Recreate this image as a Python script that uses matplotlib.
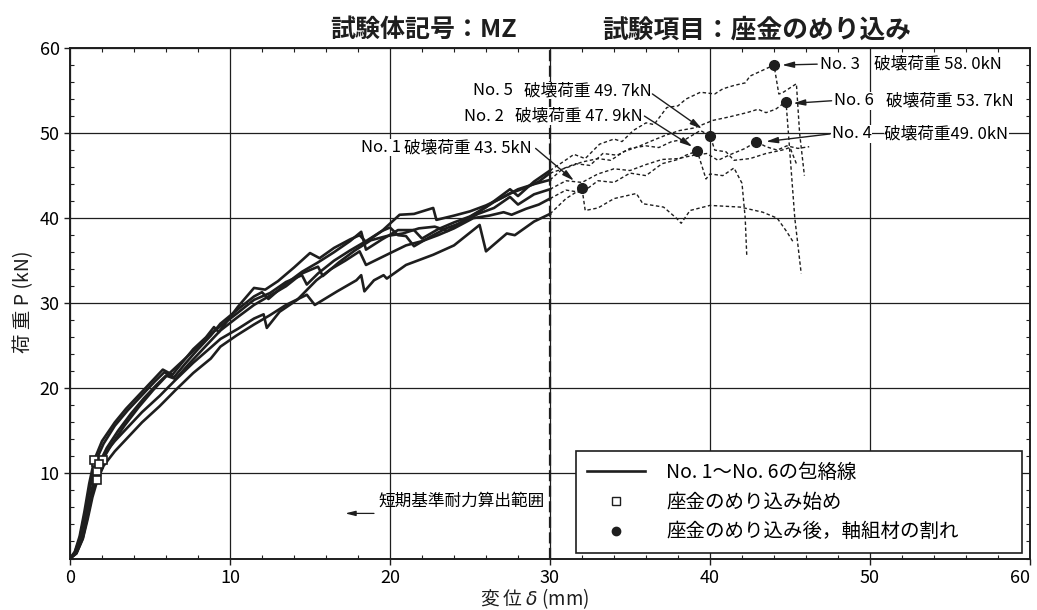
import numpy as np
import matplotlib.pyplot as plt
from matplotlib.lines import Line2D
from matplotlib.ticker import AutoMinorLocator

plt.rcParams['font.family'] = ['Noto Sans CJK JP', 'DejaVu Sans']

# load-displacement records (displacement mm, load kN), No.1 - No.6
no1 = [(0, 0), (0.4, 0.6), (0.8, 2.3), (1.1, 4.6), (1.4, 7.2), (1.71, 9.2), (2.1, 10.9), (2.8, 12.6),
       (3.5, 14.0), (4.5, 16.0), (5.6, 17.9), (6.6, 19.8), (7.7, 21.8), (8.8, 23.5), (9.4, 24.9),
       (10.4, 26.2), (11.5, 27.5), (12.5, 28.6), (13.5, 29.8), (14.8, 31.0), (15.3, 29.8), (16.7, 31.4),
       (17.9, 32.7), (18.2, 33.3), (18.4, 31.4), (19.0, 32.7), (19.6, 33.3), (19.8, 32.9), (21.0, 34.5),
       (22.7, 35.7), (24.0, 36.8), (25.6, 39.2), (26.0, 36.1), (27.3, 38.2), (27.8, 38.0), (29.0, 39.6),
       (30.0, 40.5), (31.0, 42.3), (32.0, 43.5), (32.2, 40.9), (33.0, 41.2), (34.0, 42.3), (35.4, 42.9),
       (35.8, 41.7), (37.1, 41.3), (37.9, 40.0), (38.2, 39.4), (38.75, 40.9), (40.0, 41.5), (41.9, 41.3),
       (43.3, 40.7), (44.2, 40.0), (44.8, 38.4), (45.2, 37.2)]
no2 = [(0, 0), (0.4, 0.7), (0.8, 2.6), (1.1, 5.2), (1.4, 8.0), (1.71, 10.3), (2.2, 12.4), (2.8, 13.8),
       (3.5, 15.2), (4.5, 17.2), (5.6, 19.1), (6.6, 21.0), (7.7, 23.0), (8.8, 24.8), (9.4, 25.8),
       (10.5, 27.0), (11.5, 28.2), (12.1, 28.7), (12.3, 27.1), (13.1, 29.0), (14.2, 30.4), (15.4, 32.7),
       (16.3, 34.0), (17.2, 35.0), (18.1, 36.1), (18.5, 34.5), (19.8, 35.7), (21.0, 36.8), (22.0, 37.3),
       (23.0, 38.0), (24.0, 38.8), (25.2, 40.0), (26.2, 40.3), (27.1, 40.7), (27.6, 40.4), (28.5, 41.1),
       (29.3, 41.6), (30.0, 42.3), (31.0, 43.3), (32.0, 43.0), (33.0, 44.4), (34.0, 44.2), (35.0, 45.3),
       (36.0, 45.0), (37.0, 46.4), (38.0, 46.9), (38.5, 47.4), (39.2, 47.9), (39.75, 44.6), (40.0, 45.2),
       (40.8, 45.0), (41.5, 45.9), (42.0, 44.1), (42.2, 40.0), (42.3, 35.5)]
no3 = [(0, 0), (0.3, 0.7), (0.6, 2.3), (0.9, 5.0), (1.25, 8.3), (1.6, 11.4), (2.1, 13.5), (2.8, 15.6),
       (3.6, 17.4), (4.5, 19.2), (5.3, 20.8), (5.9, 21.9), (6.5, 21.3), (7.2, 22.9), (8.0, 24.6),
       (8.8, 26.2), (9.4, 27.6), (10.5, 29.3), (11.5, 30.8), (12.0, 31.3), (12.4, 30.5), (13.5, 32.3),
       (14.5, 33.7), (15.5, 34.8), (16.5, 36.0), (17.5, 37.3), (18.2, 38.4), (18.5, 36.3), (19.5, 37.5),
       (20.5, 38.6), (21.5, 38.6), (22.0, 37.6), (23.0, 38.7), (24.0, 39.5), (25.0, 40.2), (26.0, 41.3),
       (27.0, 42.7), (27.5, 43.4), (28.0, 42.6), (29.0, 44.3), (30.0, 45.6), (30.8, 46.6), (31.5, 47.5),
       (32.2, 47.0), (33.1, 48.7), (34.0, 49.3), (34.5, 49.0), (35.2, 50.3), (36.0, 51.2), (36.5, 51.0),
       (37.3, 53.0), (38.0, 53.2), (38.5, 54.0), (39.4, 54.8), (40.3, 54.6), (40.8, 55.2), (41.5, 55.6),
       (42.2, 55.9), (42.5, 56.7), (43.2, 57.3), (44.0, 58.0), (44.3, 54.6), (44.5, 54.7), (45.4, 55.8),
       (45.6, 50.0), (45.9, 45.0)]
no4 = [(0, 0), (0.4, 0.6), (0.8, 2.4), (1.1, 5.0), (1.5, 8.5), (1.8, 10.5), (2.04, 11.6), (2.6, 13.4),
       (3.4, 15.6), (4.3, 17.8), (5.2, 19.8), (6.0, 21.4), (6.8, 22.8), (7.6, 24.2), (8.5, 25.9),
       (9.4, 27.3), (10.5, 28.9), (11.5, 30.4), (12.5, 31.2), (13.5, 32.5), (14.5, 33.3), (14.8, 32.2),
       (15.5, 33.5), (16.5, 35.0), (17.5, 36.2), (18.5, 37.3), (19.5, 38.5), (20.0, 38.9), (20.5, 38.0),
       (21.0, 37.9), (21.5, 36.7), (22.5, 37.8), (23.5, 38.8), (24.5, 39.5), (25.5, 40.5), (26.5, 41.2),
       (27.5, 42.5), (28.0, 41.6), (29.0, 42.8), (30.0, 43.4), (31.0, 44.4), (32.0, 44.2), (33.0, 45.2),
       (34.0, 45.8), (35.0, 45.6), (36.0, 46.3), (37.0, 46.9), (38.0, 47.0), (39.0, 47.4), (39.8, 47.6),
       (40.5, 46.8), (41.3, 47.5), (42.2, 48.2), (42.9, 49.0), (43.5, 48.4), (44.2, 48.0), (44.8, 48.5),
       (45.5, 48.2), (46.2, 48.4)]
no5 = [(0, 0), (0.3, 0.8), (0.6, 2.6), (0.9, 5.5), (1.2, 8.8), (1.52, 11.6), (2.0, 13.8), (2.8, 16.0),
       (3.5, 17.6), (4.5, 19.6), (5.2, 21.0), (5.8, 22.2), (6.4, 21.6), (7.0, 23.0), (7.7, 24.6),
       (8.5, 26.0), (9.0, 27.2), (9.3, 26.6), (10.5, 29.6), (11.5, 31.8), (12.2, 31.6), (13.0, 32.6),
       (14.0, 34.2), (15.0, 35.9), (15.6, 35.3), (16.5, 36.5), (17.5, 37.5), (18.1, 38.0), (18.5, 37.2),
       (19.5, 38.5), (20.6, 40.4), (21.5, 40.5), (22.7, 41.2), (22.9, 39.8), (24.0, 40.3), (25.0, 40.8),
       (26.0, 41.5), (27.0, 42.4), (28.0, 43.4), (29.0, 44.0), (30.0, 44.5), (30.8, 45.8), (31.6, 46.4),
       (32.5, 46.2), (33.3, 47.6), (34.2, 47.4), (35.0, 48.2), (36.0, 48.5), (36.8, 48.3), (37.6, 49.0),
       (38.5, 49.3), (39.4, 50.3), (40.0, 49.7), (40.3, 48.0), (41.0, 47.8), (41.5, 46.8), (42.5, 47.0),
       (43.5, 47.6), (44.5, 48.0), (45.0, 48.3), (45.4, 46.4)]
no6 = [(0, 0), (0.35, 0.6), (0.7, 2.4), (1.0, 5.0), (1.4, 8.4), (1.8, 11.1), (2.3, 13.0), (3.0, 15.0),
       (3.8, 17.0), (4.6, 18.8), (5.4, 20.4), (6.0, 21.5), (6.6, 21.1), (7.4, 22.8), (8.2, 24.4),
       (9.0, 26.0), (9.4, 26.8), (10.5, 28.4), (11.5, 29.8), (12.5, 30.9), (13.5, 32.0), (14.5, 33.5),
       (15.5, 34.3), (15.8, 33.2), (16.8, 34.8), (17.8, 36.2), (18.8, 37.4), (19.8, 37.9), (20.8, 38.2),
       (21.8, 38.8), (22.8, 39.0), (23.6, 38.5), (24.5, 39.6), (25.5, 40.7), (26.5, 41.9), (27.5, 42.9),
       (28.5, 43.6), (29.3, 44.3), (30.0, 45.3), (31.0, 45.9), (32.0, 46.6), (33.0, 47.0), (33.8, 46.8),
       (34.6, 47.8), (35.5, 48.4), (36.5, 49.2), (37.3, 49.8), (38.1, 50.3), (39.0, 50.6), (40.2, 51.5),
       (41.2, 51.9), (42.3, 52.4), (43.0, 52.8), (43.5, 52.4), (44.1, 52.8), (44.75, 53.7), (44.9, 50.0),
       (45.1, 45.0), (45.3, 40.0), (45.7, 33.5)]

specimen_no = [1, 2, 3, 4, 5, 6]
curves = [no1, no2, no3, no4, no5, no6]

# washer embedment start (open squares)
start_disp = [1.71, 1.71, 1.6, 2.04, 1.52, 1.8]
start_load = [9.2, 10.3, 11.4, 11.6, 11.6, 11.1]

# failure (filled circles)
fail_disp = [32.0, 39.2, 44.0, 42.9, 40.0, 44.75]
fail_load = [43.5, 47.9, 58.0, 49.0, 49.7, 53.7]

x_ticks = [0, 10, 20, 30, 40, 50, 60]
y_ticks = [10, 20, 30, 40, 50, 60]
legend_labels = ['No. 1～No. 6の包絡線', '座金のめり込み始め', '座金のめり込み後，軸組材の割れ']

ink = '#1e1e1e'

fig = plt.figure(figsize=(10.37, 6.1), dpi=100)
ax = fig.add_axes([70 / 1037, 1 - 558.5 / 610, 960 / 1037, 510.5 / 610])

# solid up to 30 mm (short-term range), dashed beyond
for pts in curves:
    pts = np.array(pts)
    solid = pts[pts[:, 0] <= 30]
    dashed = pts[pts[:, 0] >= 30]
    ax.plot(solid[:, 0], solid[:, 1], color=ink, lw=1.9, zorder=3)
    ax.plot(dashed[:, 0], dashed[:, 1], color=ink, lw=1.0, ls=(0, (2.5, 1.8)), zorder=3)

ax.plot(start_disp, start_load, 's', ms=6, mfc='white', mec=ink, mew=1.2, zorder=5)
ax.plot(fail_disp, fail_load, 'o', ms=7, color=ink, zorder=5)

ax.axvline(30, color=ink, lw=1.6, ls=(0, (5, 2)), zorder=4)

# failure load labels: (No. text pos, value text x, arrow start, arrow tip)
label_pos = {
    1: ((18.2, 48.3), 20.9, (29.1, 48.2), (31.5, 44.4)),
    2: ((24.6, 52.0), 27.8, (35.9, 52.0), (38.9, 48.4)),
    3: ((46.9, 58.1), 50.25, (46.7, 58.1), (44.5, 58.0)),
    4: ((47.6, 49.9), 50.9, (47.5, 49.9), (43.5, 49.0)),
    5: ((25.2, 55.0), 28.4, (36.4, 54.6), (39.5, 50.5)),
    6: ((47.75, 53.8), 51.0, (47.6, 53.8), (45.2, 53.5)),
}
box = dict(fc='white', ec='none', pad=0.3)
for n, load in zip(specimen_no, fail_load):
    (nx, ny), vx, a0, a1 = label_pos[n]
    val = f'{load:.1f}'.replace('.', '. ')
    ax.text(nx, ny, f'No. {n}', fontsize=12, va='center', ha='left', bbox=box, zorder=6)
    sep = '' if n == 4 else ' '
    ax.text(vx, ny, f'破壊荷重{sep}{val}kN', fontsize=12, va='center', ha='left', bbox=box, zorder=6)
    ax.annotate('', xy=a1, xytext=a0,
                arrowprops=dict(arrowstyle='-|>,head_length=0.7,head_width=0.18', color=ink,
                                lw=1.0, shrinkA=0, shrinkB=0), zorder=6)

ax.text(29.7, 6.7, '短期基準耐力算出範囲', fontsize=12, va='center', ha='right', zorder=6)
ax.annotate('', xy=(17.2, 5.3), xytext=(19.0, 5.3),
            arrowprops=dict(arrowstyle='-|>,head_length=0.6,head_width=0.15', color=ink, lw=0.9,
                            shrinkA=0, shrinkB=0))

ax.set_xlim(0, 60)
ax.set_ylim(0, 60)
ax.set_xticks(x_ticks)
ax.set_yticks(y_ticks)
ax.xaxis.set_minor_locator(AutoMinorLocator(5))
ax.yaxis.set_minor_locator(AutoMinorLocator(5))
ax.grid(True, which='major', color=ink, lw=0.9)
ax.tick_params(which='major', direction='out', length=4, width=1.0, labelsize=13, color=ink)
ax.tick_params(which='minor', direction='in', length=3, width=0.8, top=True, right=True, color=ink)
# keep the "60" at the right edge inside the figure
ax.xaxis.get_major_ticks()[-1].label1.set_horizontalalignment('right')
for s in ax.spines.values():
    s.set_linewidth(1.4)
    s.set_color(ink)

handles = [Line2D([], [], color=ink, lw=1.9),
           Line2D([], [], ls='none', marker='s', ms=6, mfc='white', mec=ink, mew=1.0),
           Line2D([], [], ls='none', marker='o', ms=6, color=ink)]
leg = ax.legend(handles, legend_labels, loc='lower left',
                bbox_to_anchor=((576 - 70) / 960, (558.5 - 553) / 510.5, (1022 - 576) / 960, 0.2),
                mode='expand', fontsize=14, frameon=True, fancybox=False, edgecolor=ink,
                framealpha=1, handlelength=3.0, handletextpad=1.1, borderpad=0.55,
                labelspacing=0.45, borderaxespad=0)
leg.get_frame().set_linewidth(1.2)
leg.set_zorder(7)

fig.text(330 / 1037, 1 - 30 / 610, '試験体記号：MZ', fontsize=18, weight='bold', va='center', color=ink)
fig.text(602 / 1037, 1 - 30 / 610, '試験項目：座金のめり込み', fontsize=18.5, weight='bold', va='center',
         color=ink)
fig.text(535 / 1037, 1 - 599 / 610, '変 位 $\\delta$ (mm)', fontsize=13.5, ha='center', va='center',
         color=ink)
fig.text(24 / 1037, 1 - 302 / 610, '荷 重 P (kN)', fontsize=14, rotation=90, ha='center', va='center',
         color=ink)

fig.savefig('out.png', dpi=100)
